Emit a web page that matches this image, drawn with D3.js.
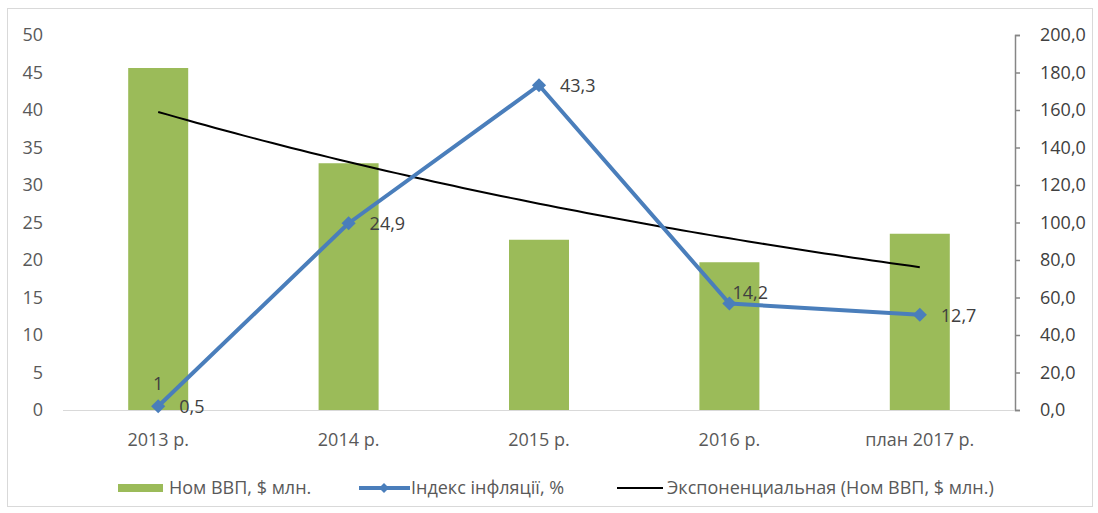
<!DOCTYPE html>
<html><head><meta charset="utf-8">
<script src="https://cdn.jsdelivr.net/npm/d3@7/dist/d3.min.js"></script>
<style>body{margin:0;background:#fff}svg{display:block}text{font-family:"Open Sans",sans-serif}</style>
</head><body><svg id="c" width="1098" height="513"></svg>
<script>
const categories = ["2013 р.", "2014 р.", "2015 р.", "2016 р.", "план 2017 р."];
const gdp = [45.6, 32.9, 22.7, 19.7, 23.5];               // Ном ВВП, $ млн. (left axis)
const inflationPlot = [2.0, 99.6, 173.2, 56.8, 50.8];     // Індекс інфляції, plotted on right axis
const inflationLabels = ["0,5", "24,9", "43,3", "14,2", "12,7"];
const inflationLabelPos = ["right", "right", "right", "above", "right"];
const barLabels = ["1", "", "", "", ""];
const leftTicks = [0, 5, 10, 15, 20, 25, 30, 35, 40, 45, 50];
const rightTicks = [0, 20, 40, 60, 80, 100, 120, 140, 160, 180, 200];
const legendNames = ["Ном ВВП, $ млн.", "Індекс інфляції, %", "Экспоненциальная (Ном ВВП, $ млн.)"];

const FS = "18px";
const svg = d3.select("#c");
const W = 1098, H = 513;
const m = {l: 63, r: 1015, t: 35, b: 410};
svg.append("rect").attr("x", 7.5).attr("y", 8.5).attr("width", W - 13).attr("height", H - 15)
  .attr("fill", "#fff").attr("stroke", "#d9d9d9");

const x = d3.scaleBand().domain(categories).range([m.l, m.r]);
const yL = d3.scaleLinear().domain([0, 50]).range([m.b, m.t]);
const yR = d3.scaleLinear().domain([0, 200]).range([m.b, m.t]);

// left axis labels
const gl = svg.append("g").attr("transform", `translate(${m.l - 20},0)`)
  .call(d3.axisLeft(yL).tickValues(leftTicks).tickSize(0).tickPadding(0));
gl.select(".domain").remove();
gl.selectAll("text").attr("fill", "#595959").style("font-size", FS);

// right axis
const gr = svg.append("g").attr("transform", `translate(${m.r},0)`)
  .call(d3.axisRight(yR).tickValues(rightTicks).tickSizeInner(5).tickSizeOuter(5).tickPadding(20)
    .tickFormat(d => d3.format(".1f")(d).replace(".", ",")));
gr.select(".domain").attr("stroke", "#868686").attr("stroke-width", 1.5);
gr.selectAll("line").attr("stroke", "#868686").attr("stroke-width", 1.5);
gr.selectAll("text").attr("fill", "#404040").style("font-size", FS);

// baseline
svg.append("line").attr("x1", m.l).attr("x2", m.r).attr("y1", m.b + 0.5).attr("y2", m.b + 0.5)
  .attr("stroke", "#d9d9d9").attr("stroke-width", 1);

// x labels
svg.append("g").selectAll("text").data(categories).join("text")
  .attr("x", d => x(d) + x.bandwidth() / 2).attr("y", 446).attr("text-anchor", "middle")
  .attr("fill", "#595959").style("font-size", FS).text(d => d);

// bars
const bw = 60;
svg.append("g").selectAll("rect").data(gdp).join("rect")
  .attr("x", (d, i) => x(categories[i]) + x.bandwidth() / 2 - bw / 2)
  .attr("width", bw).attr("y", d => yL(d)).attr("height", d => m.b - yL(d))
  .attr("fill", "#9bbb59");
svg.append("g").selectAll("text").data(barLabels).join("text")
  .attr("x", (d, i) => x(categories[i]) + x.bandwidth() / 2).attr("y", 390)
  .attr("text-anchor", "middle").attr("fill", "#404040").style("font-size", FS).text(d => d);

// exponential trendline (least-squares fit on ln(gdp))
const n = gdp.length, xs = d3.range(1, n + 1), ls = gdp.map(Math.log);
const mx = d3.mean(xs), ml = d3.mean(ls);
const slope = d3.sum(xs, (v, i) => (v - mx) * (ls[i] - ml)) / d3.sum(xs, v => (v - mx) ** 2);
const icpt = ml - slope * mx;
const cx = i => x(categories[0]) + x.bandwidth() / 2 + (i - 1) * x.step();
const tpts = d3.range(1, n + 0.001, 0.05).map(t => [cx(t), yL(Math.exp(icpt + slope * t))]);
svg.append("path").attr("d", d3.line()(tpts)).attr("fill", "none").attr("stroke", "#000").attr("stroke-width", 2);

// inflation line
const blue = "#4a7ebb";
const ipts = inflationPlot.map((v, i) => [x(categories[i]) + x.bandwidth() / 2, yR(v)]);
svg.append("path").attr("d", d3.line()(ipts)).attr("fill", "none").attr("stroke", blue)
  .attr("stroke-width", 4).attr("stroke-linejoin", "round");
svg.append("g").selectAll("path").data(ipts).join("path")
  .attr("transform", d => `translate(${d[0]},${d[1]}) rotate(45)`).attr("d", d3.symbol().type(d3.symbolSquare).size(100))
  .attr("fill", blue);
svg.append("g").selectAll("text").data(inflationLabels).join("text")
  .attr("x", (d, i) => ipts[i][0] + (inflationLabelPos[i] === "above" ? 3 : 21))
  .attr("y", (d, i) => ipts[i][1] + (inflationLabelPos[i] === "above" ? -5 : 7))
  .attr("fill", "#404040").style("font-size", FS).text(d => d);

// legend
const ly = 488;
const lg = svg.append("g");
lg.append("rect").attr("x", 118).attr("y", ly - 4).attr("width", 45).attr("height", 8).attr("fill", "#9bbb59");
lg.append("text").attr("x", 169).attr("y", ly + 6).text(legendNames[0]);
lg.append("line").attr("x1", 359).attr("x2", 410).attr("y1", ly).attr("y2", ly).attr("stroke", blue).attr("stroke-width", 4);
lg.append("path").attr("transform", `translate(384,${ly}) rotate(45)`).attr("d", d3.symbol().type(d3.symbolSquare).size(50)).attr("fill", blue);
lg.append("text").attr("x", 411).attr("y", ly + 6).text(legendNames[1]);
lg.append("line").attr("x1", 617).attr("x2", 663).attr("y1", ly).attr("y2", ly).attr("stroke", "#000").attr("stroke-width", 2);
lg.append("text").attr("x", 667).attr("y", ly + 6).text(legendNames[2]);
lg.selectAll("text").attr("fill", "#595959").style("font-size", FS);
</script></body></html>
